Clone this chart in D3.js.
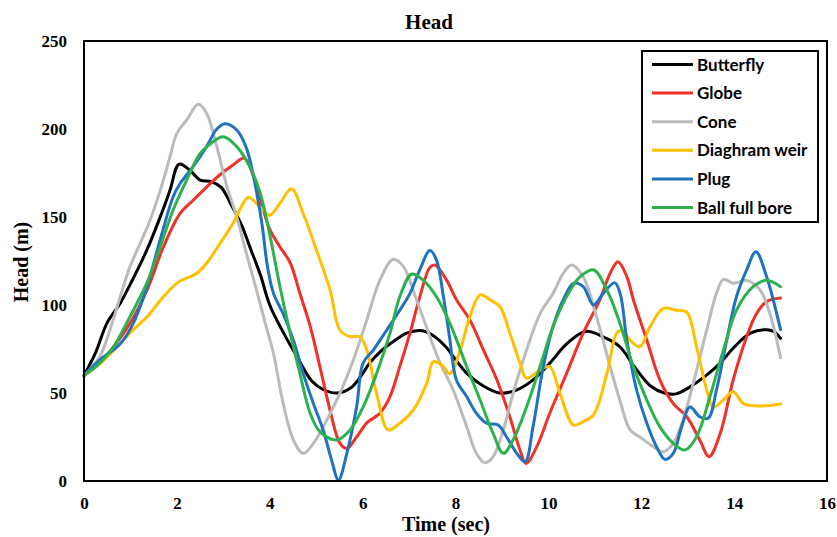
<!DOCTYPE html>
<html>
<head>
<meta charset="utf-8">
<script src="https://cdn.jsdelivr.net/npm/d3@7"></script>
<style>
  html, body { margin: 0; padding: 0; background: #fff; }
  svg { display: block; }
</style>
</head>
<body>
<svg id="chart" width="837" height="537"></svg>
<script>
// Head vs time for six valve types, each series as [time (s), head (m)] pairs
const butterfly = [[0,60],[0.25,73],[0.5,90],[0.78,101],[1.0,112],[1.35,131],[1.67,152],[1.85,165],[2.05,180],[2.3,176],[2.5,171],[2.75,170],[2.95,167],[3.15,158],[3.4,145],[3.6,131],[3.8,117],[4.0,100],[4.3,84],[4.6,70],[4.9,57],[5.15,52],[5.45,50],[5.75,53],[5.95,59],[6.15,67],[6.4,74],[6.7,80],[6.95,84],[7.25,85.5],[7.5,83],[7.8,76],[8.0,69],[8.25,61],[8.6,54],[8.95,50],[9.3,51.5],[9.65,57],[10.0,66],[10.4,78],[10.8,85],[11.25,81],[11.55,76],[11.85,65],[12.2,54],[12.5,50],[12.75,49.5],[13.05,53.5],[13.4,60],[13.7,67],[14.0,76],[14.35,84],[14.7,86],[14.85,85],[15,81]];
const globe = [[0,60],[0.3,66],[0.63,76],[1.0,90],[1.35,108],[1.71,133],[2.07,152],[2.35,159.5],[2.64,167],[2.93,174],[3.21,179.5],[3.45,183.5],[3.65,173],[3.85,155],[4.0,143],[4.22,133],[4.44,124],[4.65,106.5],[4.87,88],[5.08,65],[5.3,40],[5.51,21.5],[5.66,18.5],[5.87,25],[6.09,33],[6.37,38.5],[6.59,48],[6.8,65],[7.02,84],[7.23,104.5],[7.45,121.5],[7.56,122.7],[7.81,114],[8.02,103],[8.31,91.5],[8.6,74.5],[8.89,57.5],[9.17,36.5],[9.39,17.5],[9.52,10],[9.75,19.5],[10.03,38.5],[10.39,61],[10.75,84],[11.11,103],[11.33,118],[11.5,124.6],[11.69,116],[11.83,103],[12.12,80],[12.4,57.5],[12.69,44],[12.98,36.5],[13.26,23.3],[13.46,13.8],[13.7,27],[13.98,57.5],[14.27,82],[14.48,95],[14.7,102],[15,104]];
const cone = [[0,60],[0.34,70.6],[0.56,86],[0.78,104.7],[0.99,121.8],[1.21,135],[1.42,148],[1.64,165],[1.85,184],[2.0,197.5],[2.21,205],[2.46,214],[2.64,209],[2.86,190],[3.07,168],[3.29,150],[3.5,129],[3.7,110],[3.9,90],[4.08,72.5],[4.29,44],[4.51,23.3],[4.72,15.7],[4.94,21.4],[5.23,34.7],[5.51,49.8],[5.8,68.8],[6.09,91.5],[6.37,114],[6.66,126],[6.88,121.8],[7.16,103],[7.45,82],[7.67,67],[7.95,51.7],[8.24,30.9],[8.45,15.7],[8.63,10.4],[8.81,13.8],[9.03,29],[9.24,49.8],[9.53,74.4],[9.82,95],[10.1,106.6],[10.32,118],[10.5,122.7],[10.75,116],[11.04,93],[11.33,65],[11.55,45],[11.76,29],[11.97,25],[12.26,19.5],[12.47,16.6],[12.69,21.4],[12.9,34.7],[13.12,55.5],[13.41,85.8],[13.62,106.6],[13.77,114.6],[13.98,112.3],[14.27,114],[14.56,108.5],[14.77,95],[15,70]];
const diaphragmWeir = [[0,60],[0.4,68],[0.78,78],[1.06,86],[1.35,93],[1.71,104.7],[2.03,113],[2.43,118],[2.64,123.7],[2.93,135],[3.21,146.4],[3.43,157.8],[3.54,161.2],[3.79,155.8],[4.0,151],[4.22,157.8],[4.47,166],[4.72,152],[5.01,131],[5.3,108.5],[5.51,85.8],[5.73,82],[5.94,82],[6.09,74.4],[6.3,49.8],[6.55,29],[6.8,32.8],[7.09,40.3],[7.38,55.5],[7.52,67.8],[7.7,66],[7.88,61],[8.1,74.4],[8.31,93.4],[8.53,105.7],[8.74,103],[8.96,99],[9.17,84],[9.39,67],[9.53,58.4],[9.82,63],[10.03,65],[10.25,49.8],[10.54,31.8],[10.75,33.7],[10.97,37.5],[11.26,61],[11.47,84],[11.58,85.8],[11.76,80],[11.97,76.3],[12.19,87.7],[12.47,98],[12.76,97],[12.98,96],[13.19,76.3],[13.41,51.7],[13.55,42],[13.77,46],[13.98,50.7],[14.2,44],[14.56,42.6],[15,43.7]];
const plug = [[0,60],[0.34,68.8],[0.78,78],[1.06,89.6],[1.35,110],[1.64,137],[1.92,161.5],[2.07,169],[2.35,178.6],[2.64,190],[2.86,200],[3.04,203],[3.29,199.4],[3.5,189],[3.65,173],[3.83,146.4],[3.95,122],[4.08,106.6],[4.29,95],[4.51,80],[4.72,61],[4.94,44],[5.15,29],[5.33,12],[5.48,0.6],[5.66,15.7],[5.87,42],[6.01,67],[6.23,74.4],[6.52,85.8],[6.8,97],[7.02,106.6],[7.23,120],[7.45,131],[7.59,125.6],[7.74,104.7],[7.87,82],[8.02,57.4],[8.24,48],[8.45,38.5],[8.67,32.8],[8.92,31.8],[9.1,25],[9.32,15.7],[9.5,11],[9.67,30.9],[9.89,65],[10.1,87.7],[10.32,103],[10.54,112.3],[10.75,110.4],[10.97,100],[11.18,106.6],[11.43,112.7],[11.55,106],[11.69,80],[11.9,51.7],[12.12,32.8],[12.33,19.5],[12.51,12.3],[12.69,15.7],[12.87,30.9],[13.05,42],[13.26,36.5],[13.44,35.6],[13.62,51.7],[13.84,80],[14.05,104.7],[14.27,120],[14.47,130.3],[14.7,116],[14.88,99],[15,86]];
const ballFullBore = [[0,60],[0.34,67],[0.63,76],[0.99,93.4],[1.35,112.3],[1.64,133],[1.92,154],[2.21,171],[2.5,186],[2.78,192.8],[3.0,195.6],[3.29,190],[3.57,178.6],[3.79,164],[4.0,140],[4.22,110.4],[4.44,84],[4.65,61],[4.87,38.5],[5.08,28],[5.44,23.3],[5.73,29],[6.01,42],[6.3,61],[6.59,84],[6.8,104.7],[7.06,117.6],[7.31,114],[7.59,104.7],[7.88,89.6],[8.24,65],[8.53,46],[8.81,27],[9.03,15.7],[9.24,23.3],[9.53,42],[9.82,65],[10.1,87.7],[10.39,104.7],[10.68,116],[10.97,120],[11.26,108.5],[11.54,89.6],[11.83,65],[12.12,46],[12.4,30.9],[12.69,21.4],[12.94,17.6],[13.19,25],[13.48,48],[13.77,74.4],[14.05,97],[14.41,110.4],[14.7,114],[15,110.4]];

const seriesNames = ["Butterfly", "Globe", "Cone", "Diaghram weir", "Plug", "Ball full bore"];
const seriesData = [butterfly, globe, cone, diaphragmWeir, plug, ballFullBore];
const seriesColors = ["#000000", "#EE3129", "#BBBBBB", "#FFC000", "#1F72C0", "#2DB04E"];

const xTicks = [0, 2, 4, 6, 8, 10, 12, 14, 16];
const yTicks = [0, 50, 100, 150, 200, 250];

const svg = d3.select("#chart");
const plot = { left: 84, right: 827, top: 41, bottom: 481 };

const x = d3.scaleLinear().domain([0, 16]).range([plot.left, plot.right]);
const y = d3.scaleLinear().domain([0, 250]).range([plot.bottom, plot.top]);

const serif = "'Liberation Serif', 'Times New Roman', serif";

// Title
svg.append("text")
  .attr("x", 429).attr("y", 29)
  .attr("text-anchor", "middle")
  .style("font-family", serif).style("font-weight", "bold").style("font-size", "21px")
  .text("Head");

// Axes (labels only, no tick marks)
const xAxis = d3.axisBottom(x).tickValues(xTicks).tickSize(0).tickPadding(0);
const yAxis = d3.axisLeft(y).tickValues(yTicks).tickSize(0).tickPadding(0);

const gx = svg.append("g").attr("transform", `translate(0,${plot.bottom})`).call(xAxis);
gx.select(".domain").remove();
gx.selectAll("text")
  .attr("y", 28).attr("dy", null)
  .style("font-family", serif).style("font-weight", "bold").style("font-size", "17px").attr("fill", "#000");

const gy = svg.append("g").attr("transform", `translate(67,0)`).call(yAxis);
gy.select(".domain").remove();
gy.selectAll("text")
  .attr("x", 0).attr("dy", "0.34em")
  .style("font-family", serif).style("font-weight", "bold").style("font-size", "17px").attr("fill", "#000");

// Axis titles
svg.append("text")
  .attr("x", 446).attr("y", 531)
  .attr("text-anchor", "middle")
  .style("font-family", serif).style("font-weight", "bold").style("font-size", "20px")
  .text("Time (sec)");

svg.append("text")
  .attr("transform", `translate(28,${(plot.top + plot.bottom) / 2 + 1}) rotate(-90)`)
  .attr("text-anchor", "middle")
  .style("font-family", serif).style("font-weight", "bold").style("font-size", "20px")
  .text("Head (m)");

// Series lines
const line = d3.line()
  .x(d => x(d[0]))
  .y(d => y(d[1]))
  .curve(d3.curveCatmullRom.alpha(0.5));

svg.append("g").selectAll("path")
  .data(seriesData)
  .join("path")
  .attr("d", line)
  .attr("fill", "none")
  .attr("stroke", (d, i) => seriesColors[i])
  .attr("stroke-width", 3)
  .attr("stroke-linejoin", "round")
  .attr("stroke-linecap", "round");

// Plot frame
svg.append("rect")
  .attr("x", plot.left).attr("y", plot.top)
  .attr("width", plot.right - plot.left).attr("height", plot.bottom - plot.top)
  .attr("fill", "none").attr("stroke", "#000").attr("stroke-width", 2);

// Legend
const legend = svg.append("g");
legend.append("rect")
  .attr("x", 642).attr("y", 51).attr("width", 176).attr("height", 171)
  .attr("fill", "#fff").attr("stroke", "#000").attr("stroke-width", 2);

const rowY = d3.scaleLinear().domain([0, 5]).range([64.5, 207.5]);
const rows = legend.selectAll("g.row")
  .data(seriesNames)
  .join("g").attr("class", "row")
  .attr("transform", (d, i) => `translate(0,${rowY(i)})`);
rows.append("line")
  .attr("x1", 652).attr("x2", 693).attr("y1", 0).attr("y2", 0)
  .attr("stroke", (d, i) => seriesColors[i]).attr("stroke-width", 3);
rows.append("text")
  .attr("x", 697).attr("dy", "0.36em")
  .style("font-family", "Lato, 'Open Sans', sans-serif").style("font-weight", "bold").style("font-size", "17px")
  .text(d => d);
</script>
</body>
</html>
